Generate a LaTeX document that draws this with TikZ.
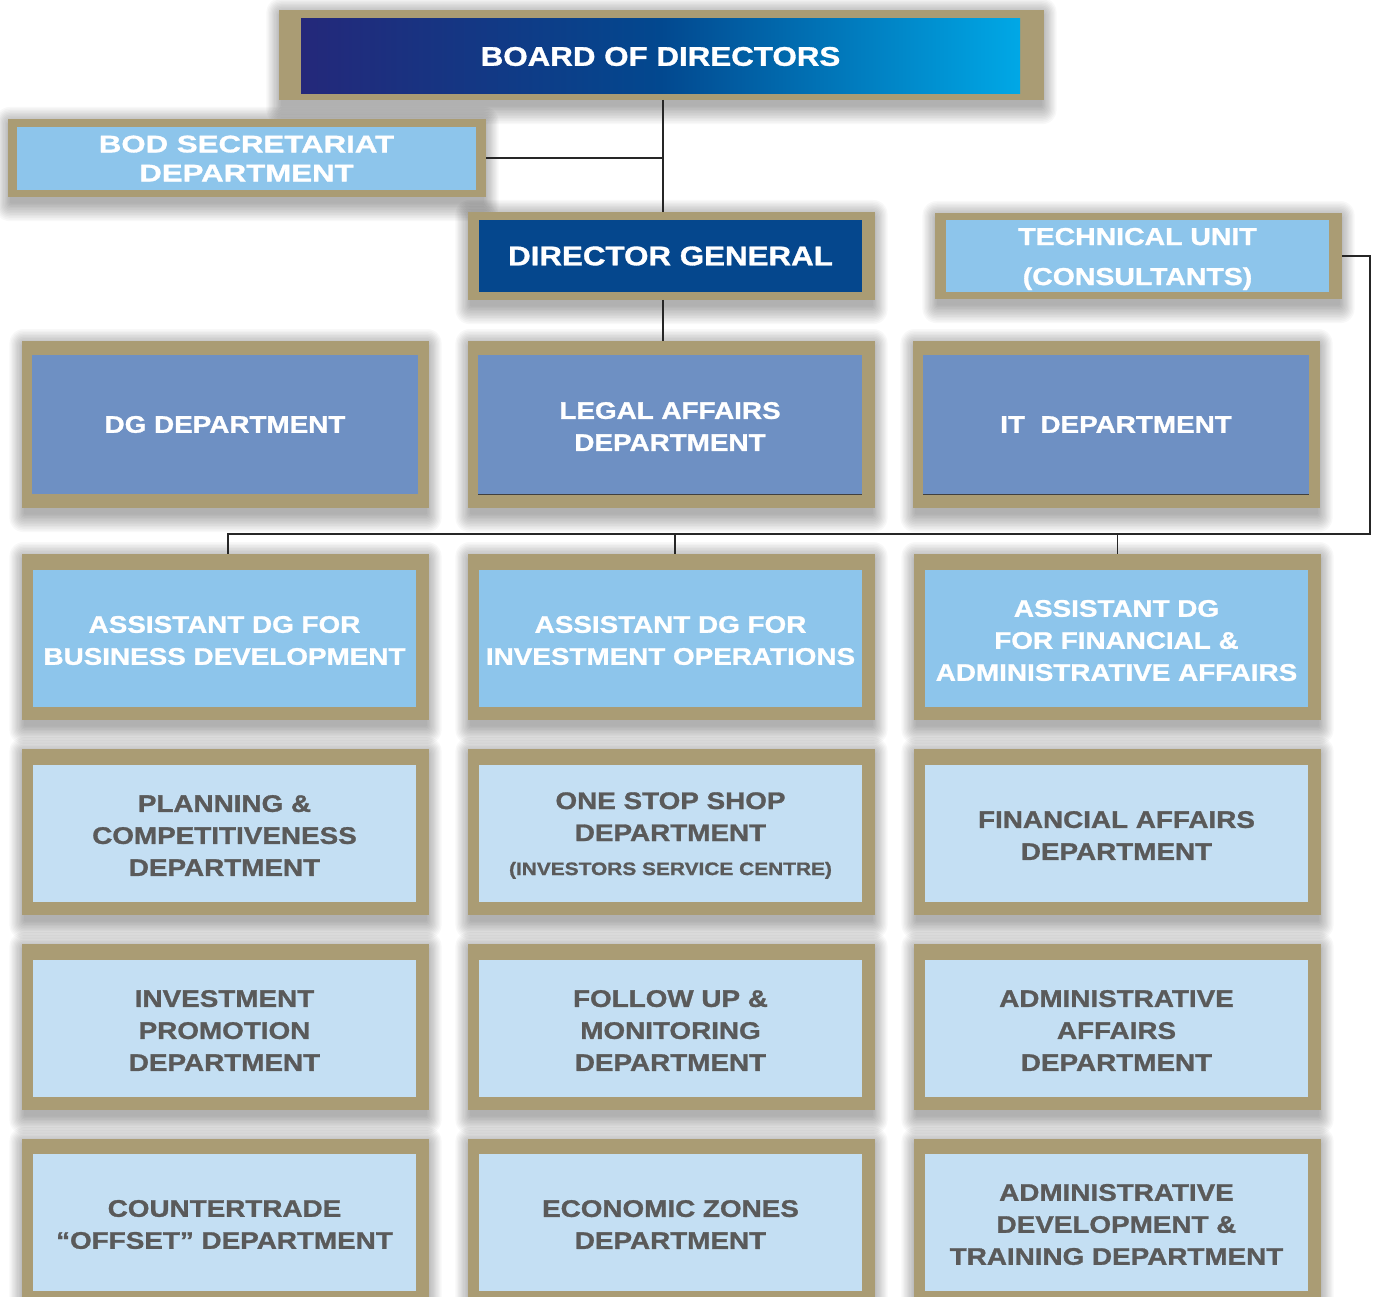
\documentclass[tikz,border=0pt]{standalone}
\usepackage{fontspec}
\newfontfamily\hv[FakeStretch=1.16,FakeBold=1.2]{Liberation Sans}
\newfontfamily\hvw[FakeStretch=1.3,FakeBold=1.2]{Liberation Sans}
\usetikzlibrary{fit,backgrounds}
\definecolor{gold}{HTML}{AA9C74}
\definecolor{bnavy}{HTML}{24287A}
\definecolor{bmid}{HTML}{02488F}
\definecolor{bcyan}{HTML}{00A8E6}
\definecolor{dgblue}{HTML}{05478D}
\definecolor{lblue}{HTML}{8DC5EB}
\definecolor{mblue}{HTML}{6E90C3}
\definecolor{pblue}{HTML}{C4DFF3}
\definecolor{tgray}{HTML}{5A5A5A}
\tikzset{
  goldframe/.style={fill=gold, draw=none, inner sep=0pt, outer sep=0pt},
  panel/.style={draw=none, inner sep=0pt, outer sep=0pt},
  lbl/.style={align=center, inner sep=0pt, text=white, yshift=-2pt,
    font=\hv\bfseries\fontsize{24}{32}\selectfont},
  glbl/.style={lbl, text=tgray},
  conn/.style={draw=black!85, line width=1.2pt},
  shadowlayer/.style={fill=black, opacity=0.027},
}
% #1 name, #2 panel style, #3 outer corners, #4 inner corners, #5 label style, #6 text
\newcommand\orgbox[6]{%
  \node[goldframe, fit={#3}] (#1-f) {};
  \begin{pgfonlayer}{background}
    \foreach \k in {1,...,12}{%
      \fill[shadowlayer, rounded corners={\k*1.2pt}]
        ([xshift={(3-1.3*\k)*1pt}, yshift={(1.5*\k-6)*1pt}]#1-f.north west) rectangle
        ([xshift={(1.3*\k-3)*1pt}, yshift={(-1.6*\k-5)*1pt}]#1-f.south east);
    }
  \end{pgfonlayer}
  \node[panel, #2, fit={#4}] (#1) {};
  \node[#5] (#1-t) at (#1.center) {#6};
}
\begin{document}
\begin{tikzpicture}[x=1pt, y=-1pt]
\useasboundingbox (0,0) rectangle (1373,1297);
\clip (0,0) rectangle (1373,1297);
\begin{pgfonlayer}{background}
\fill[white] (0,0) rectangle (1373,1297);
\end{pgfonlayer}

% top level
\orgbox{bod}{left color=bnavy, right color=bcyan, middle color=bmid}{(279,10) (1044,100)}{(301,19) (1020,94)}
  {lbl, yshift=2pt, font=\hv\bfseries\fontsize{27}{32}\selectfont}{BOARD OF DIRECTORS}
\orgbox{sec}{fill=lblue}{(8,119) (486,197)}{(17,127) (476,190)}
  {lbl, yshift=2pt, font=\hvw\bfseries\fontsize{24}{29}\selectfont}{BOD SECRETARIAT\\DEPARTMENT}
\orgbox{dg}{fill=dgblue}{(468,212) (875,300)}{(479,220) (862,292)}
  {lbl, yshift=2pt, font=\hv\bfseries\fontsize{27}{32}\selectfont}{DIRECTOR GENERAL}
\orgbox{tech}{fill=lblue}{(935,213) (1342,299)}{(946,220) (1329,292)}
  {lbl, yshift=-1pt, font=\hv\bfseries\fontsize{24.5}{40}\selectfont}{TECHNICAL UNIT\\(CONSULTANTS)}

% row 2
\orgbox{dgdep}{fill=mblue}{(22,341) (429,508)}{(32,355) (418,494)}{lbl, yshift=2pt}{DG DEPARTMENT}
\orgbox{legal}{fill=mblue}{(468,341) (875,508)}{(478,355) (862,494)}{lbl}{LEGAL AFFAIRS\\DEPARTMENT}
\orgbox{it}{fill=mblue}{(913,341) (1320,508)}{(923,355) (1309,494)}{lbl, yshift=2pt}{IT\ \ DEPARTMENT}

% row 3
\orgbox{adga}{fill=lblue}{(22,554) (429,720)}{(33,570) (416,707)}{lbl}{ASSISTANT DG FOR\\BUSINESS DEVELOPMENT}
\orgbox{adgb}{fill=lblue}{(468,554) (875,720)}{(479,570) (862,707)}{lbl}{ASSISTANT DG FOR\\INVESTMENT OPERATIONS}
\orgbox{adgc}{fill=lblue}{(914,554) (1321,720)}{(925,570) (1308,707)}{lbl}{ASSISTANT DG\\FOR FINANCIAL \&\\ADMINISTRATIVE AFFAIRS}

% row 4
\orgbox{plan}{fill=pblue}{(22,749) (429,915)}{(33,765) (416,902)}{glbl}{PLANNING \&\\COMPETITIVENESS\\DEPARTMENT}
\orgbox{oss}{fill=pblue}{(468,749) (875,915)}{(479,765) (862,902)}{glbl}{ONE STOP SHOP\\DEPARTMENT\\[2pt]{\fontsize{18}{24}\selectfont(INVESTORS SERVICE CENTRE)}}
\orgbox{fin}{fill=pblue}{(914,749) (1321,915)}{(925,765) (1308,902)}{glbl}{FINANCIAL AFFAIRS\\DEPARTMENT}

% row 5
\orgbox{prom}{fill=pblue}{(22,944) (429,1110)}{(33,960) (416,1097)}{glbl}{INVESTMENT\\PROMOTION\\DEPARTMENT}
\orgbox{fum}{fill=pblue}{(468,944) (875,1110)}{(479,960) (862,1097)}{glbl}{FOLLOW UP \&\\MONITORING\\DEPARTMENT}
\orgbox{adm}{fill=pblue}{(914,944) (1321,1110)}{(925,960) (1308,1097)}{glbl}{ADMINISTRATIVE\\AFFAIRS\\DEPARTMENT}

% row 6
\orgbox{ctr}{fill=pblue}{(22,1139) (429,1306)}{(33,1154) (416,1291)}{glbl}{COUNTERTRADE\\“OFFSET” DEPARTMENT}
\orgbox{ez}{fill=pblue}{(468,1139) (875,1306)}{(479,1154) (862,1291)}{glbl}{ECONOMIC ZONES\\DEPARTMENT}
\orgbox{adt}{fill=pblue}{(914,1139) (1321,1306)}{(925,1154) (1308,1291)}{glbl}{ADMINISTRATIVE\\DEVELOPMENT \&\\TRAINING DEPARTMENT}

% thin edge lines at the foot of two panels
\draw[black!75, line width=0.8pt] (legal.south west) -- (legal.south east);
\draw[black!75, line width=0.8pt] (it.south west) -- (it.south east);

% connectors
\coordinate (trunk) at (663,0);
\coordinate (busR) at (1370,534);
\coordinate (dropA) at ([xshift=2.5pt]adga-f.north);
\coordinate (dropB) at ([xshift=3.5pt]adgb-f.north);
\draw[conn] (trunk |- bod-f.south) -- (trunk |- dg-f.north);
\draw[conn] (sec-f.east) -- (trunk |- sec-f.east);
\draw[conn] (trunk |- dg-f.south) -- (trunk |- legal-f.north);
\draw[conn] (tech-f.east) -| (busR) -- (busR -| dropA) -- (dropA);
\draw[conn] (dropB |- busR) -- (dropB);
\draw[conn] (adgc-f.north |- busR) -- (adgc-f.north);
\end{tikzpicture}
\end{document}
